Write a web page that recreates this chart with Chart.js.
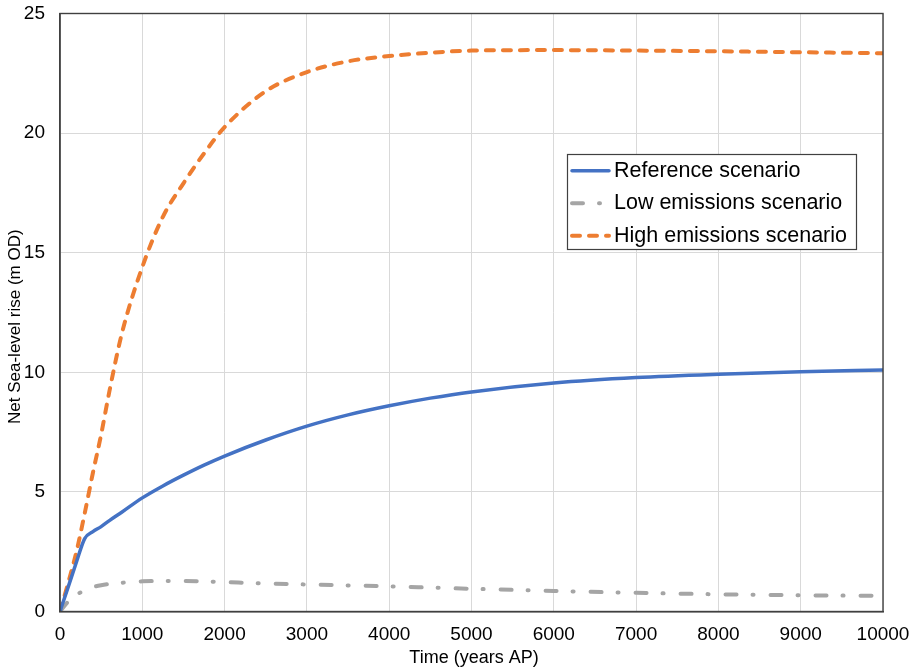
<!DOCTYPE html>
<html>
<head>
<meta charset="utf-8">
<script src="https://cdn.jsdelivr.net/npm/chart.js@4/dist/chart.umd.min.js"></script>
<style>
  html, body { margin: 0; padding: 0; background: #ffffff; }
  canvas { display: block; }
</style>
</head>
<body>
<canvas id="seaLevel" width="914" height="670"></canvas>
<script>
// Sample times (years AP)
const years = [0, 100, 200, 300, 400, 500, 600, 750, 1000, 1250, 1500, 1750, 2000,
               2500, 3000, 3500, 4000, 4500, 5000, 6000, 7000, 8000, 9000, 10000];

// Net sea-level rise (m OD) for each scenario at the sample times
const referenceRise = [0, 1.03, 2.07, 3.05, 3.34, 3.55, 3.8, 4.15, 4.75, 5.25, 5.7, 6.12, 6.5,
                       7.17, 7.75, 8.22, 8.6, 8.92, 9.18, 9.55, 9.78, 9.92, 10.02, 10.1];
const lowRise = [0, 0.42, 0.7, 0.88, 1.02, 1.1, 1.15, 1.2, 1.26, 1.275, 1.28, 1.26, 1.23,
                 1.17, 1.13, 1.09, 1.05, 1.0, 0.95, 0.86, 0.78, 0.72, 0.68, 0.65];
const highRise = [0, 1.2, 2.5, 4.1, 5.8, 7.4, 9.2, 11.6, 14.4, 16.5, 17.9, 19.15, 20.25,
                  21.75, 22.55, 23.0, 23.22, 23.36, 23.45, 23.47, 23.45, 23.42, 23.38, 23.34];

const seriesLabels = ['Reference scenario', 'Low emissions scenario', 'High emissions scenario'];

// Axis tick values
const xTickValues = [0, 1000, 2000, 3000, 4000, 5000, 6000, 7000, 8000, 9000, 10000];
const yTickValues = [0, 5, 10, 15, 20, 25];

const FONT = '"Liberation Sans", Arial, Helvetica, sans-serif';
const toPoints = vals => years.map((x, i) => ({ x: x, y: vals[i] }));

// Dark frame around the plotting area
const plotFrame = {
  id: 'plotFrame',
  afterDraw(chart) {
    const { ctx, chartArea: a } = chart;
    ctx.save();
    ctx.strokeStyle = '#404040';
    ctx.lineWidth = 1.4;
    ctx.strokeRect(a.left, a.top, a.right - a.left, a.bottom - a.top);
    ctx.restore();
  }
};

// Boxed legend placed inside the plotting area
const insetLegend = {
  id: 'insetLegend',
  afterDraw(chart) {
    const ctx = chart.ctx;
    const box = { x: 567, y: 154, w: 289, h: 95 };
    ctx.save();
    ctx.fillStyle = '#ffffff';
    ctx.fillRect(box.x, box.y, box.w, box.h);
    ctx.strokeStyle = '#404040';
    ctx.lineWidth = 1.2;
    ctx.strokeRect(box.x + 0.5, box.y + 0.5, box.w, box.h);
    chart.data.datasets.forEach((ds, i) => {
      const lineY = 170.7 + i * 32.5;
      const baseY = 176.7 + i * 32.4;
      ctx.beginPath();
      ctx.setLineDash(ds.borderDash || []);
      ctx.lineCap = ds.borderCapStyle || 'butt';
      ctx.strokeStyle = ds.borderColor;
      ctx.lineWidth = ds.borderWidth;
      ctx.moveTo(572, lineY);
      ctx.lineTo(609, lineY);
      ctx.stroke();
      ctx.setLineDash([]);
      ctx.fillStyle = '#000000';
      ctx.font = '21.5px ' + FONT;
      ctx.textAlign = 'left';
      ctx.textBaseline = 'alphabetic';
      ctx.fillText(ds.label, 614, baseY);
    });
    ctx.restore();
  }
};

const lineDefaults = {
  pointRadius: 0,
  pointHoverRadius: 0,
  fill: false,
  cubicInterpolationMode: 'monotone'
};

new Chart(document.getElementById('seaLevel'), {
  type: 'line',
  data: {
    datasets: [
      Object.assign({
        label: seriesLabels[0],
        data: toPoints(referenceRise),
        borderColor: '#4472C4',
        borderWidth: 3.5,
        borderCapStyle: 'round',
        borderJoinStyle: 'round'
      }, lineDefaults),
      Object.assign({
        label: seriesLabels[1],
        data: toPoints(lowRise),
        borderColor: '#A5A5A5',
        borderWidth: 4,
        borderDash: [11, 16, 1, 17],
        borderCapStyle: 'round'
      }, lineDefaults),
      Object.assign({
        label: seriesLabels[2],
        data: toPoints(highRise),
        borderColor: '#ED7D31',
        borderWidth: 4,
        borderDash: [8, 9],
        borderCapStyle: 'round'
      }, lineDefaults)
    ]
  },
  options: {
    responsive: false,
    animation: false,
    events: [],
    layout: { padding: { top: 13.5, right: 31, bottom: 0, left: 0 } },
    plugins: {
      legend: { display: false },
      tooltip: { enabled: false },
      title: { display: false }
    },
    scales: {
      x: {
        type: 'linear',
        min: 0,
        max: 10000,
        afterBuildTicks: s => { s.ticks = xTickValues.map(v => ({ value: v })); },
        afterFit: s => { s.height = 58.5; s.paddingLeft = 0; s.paddingRight = 0; },
        ticks: {
          color: '#000000',
          font: { family: FONT, size: 19 },
          padding: 12,
          maxRotation: 0,
          autoSkip: false,
          callback: v => String(v)
        },
        grid: { color: '#d9d9d9', lineWidth: 1, drawTicks: false },
        border: { display: true, color: '#404040', width: 1.4 },
        title: {
          display: true,
          text: ' Time (years AP)',
          color: '#000000',
          font: { family: FONT, size: 18 },
          padding: { top: 0, bottom: 1 }
        }
      },
      y: {
        type: 'linear',
        min: 0,
        max: 25,
        afterBuildTicks: s => { s.ticks = yTickValues.map(v => ({ value: v })); },
        afterFit: s => { s.width = 60; s.paddingTop = 0; s.paddingBottom = 0; },
        ticks: {
          color: '#000000',
          font: { family: FONT, size: 19 },
          padding: 15,
          callback: v => String(v)
        },
        grid: { color: '#d9d9d9', lineWidth: 1, drawTicks: false },
        border: { display: true, color: '#404040', width: 1.4 },
        title: {
          display: true,
          text: 'Net Sea-level rise (m OD)      ',
          color: '#000000',
          font: { family: FONT, size: 17 },
          padding: { top: 5, bottom: 0 }
        }
      }
    }
  },
  plugins: [plotFrame, insetLegend]
});
</script>
</body>
</html>
